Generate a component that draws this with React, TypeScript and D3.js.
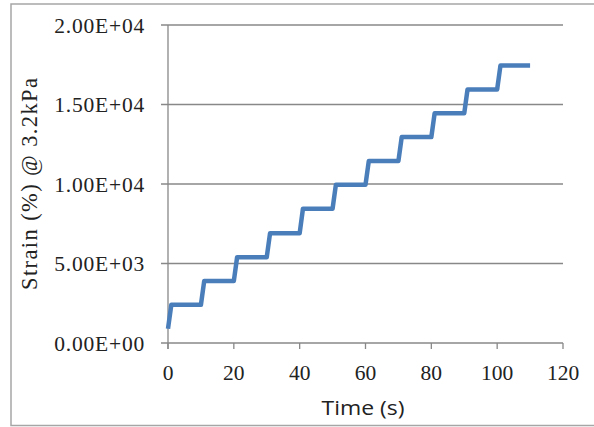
import React from "react";
import * as d3 from "d3";

const timeValues: number[] = [0, 1, 10, 11, 20, 21, 30, 31, 40, 41, 50, 51, 60, 61, 70, 71, 80, 81, 90, 91, 100, 101, 110];
const strainValues: number[] = [900, 2400, 2400, 3900, 3900, 5400, 5400, 6900, 6900, 8450, 8450, 9950, 9950, 11450, 11450, 12950, 12950, 14450, 14450, 15950, 15950, 17450, 17450];
const xTicks: number[] = [0, 20, 40, 60, 80, 100, 120];
const yTicks: number[] = [0, 5000, 10000, 15000, 20000];
const yTickLabels: string[] = ["0.00E+00", "5.00E+03", "1.00E+04", "1.50E+04", "2.00E+04"];
const xTitle = "Time (s)";
const yTitle = "Strain (%) @ 3.2kPa";

export default function App() {
  const W = 594, H = 427;
  const left = 168, right = 563, top = 25, bottom = 343;
  const x = d3.scaleLinear().domain([0, 120]).range([left, right]);
  const y = d3.scaleLinear().domain([0, 20000]).range([bottom, top]);
  const pts = timeValues.map((t, i) => [t, strainValues[i]] as [number, number]);
  const line = d3.line<[number, number]>().x(d => x(d[0])).y(d => y(d[1]));
  const grid = "#888888";
  return (
    <svg width={W} height={H} style={{ position: "absolute", left: 0, top: 0, background: "#fff" }}>
      <rect x={11} y={4} width={W} height={421.5} fill="none" stroke="#a6a6a6" strokeWidth={1.5} />
      {yTicks.map((v, i) => (
        <g key={v}>
          <line x1={161} x2={right} y1={y(v)} y2={y(v)} stroke={grid} strokeWidth={1.3} />
          <text x={145} y={y(v)} dy="0.35em" textAnchor="end" fontFamily="'Liberation Serif', serif" fontSize={21.5} letterSpacing={0.8} fill="#222">{yTickLabels[i]}</text>
        </g>
      ))}
      <line x1={left} x2={left} y1={top} y2={bottom + 6} stroke={grid} strokeWidth={1.3} />
      {xTicks.map(v => (
        <g key={v}>
          <line x1={x(v)} x2={x(v)} y1={bottom} y2={bottom + 6} stroke={grid} strokeWidth={1.3} />
          <text x={x(v)} y={380} textAnchor="middle" fontFamily="'Liberation Serif', serif" fontSize={21.5} fill="#222">{v}</text>
        </g>
      ))}
      <path d={line(pts) || ""} fill="none" stroke="#4a7ebb" strokeWidth={4.5} strokeLinejoin="round" />
      <text x={363} y={415} textAnchor="middle" fontFamily="'Open Sans', sans-serif" fontSize={20} fill="#222" textLength={83} lengthAdjust="spacingAndGlyphs">{xTitle}</text>
      <text transform={`translate(37,184) rotate(-90)`} textAnchor="middle" fontFamily="'Liberation Serif', serif" fontSize={22.5} fill="#222" textLength={212} lengthAdjust="spacing">{yTitle}</text>
    </svg>
  );
}
